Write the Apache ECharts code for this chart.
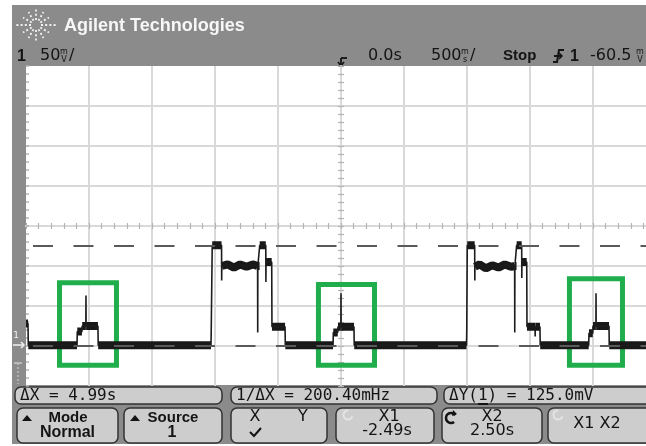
<!DOCTYPE html>
<html>
<head>
<meta charset="utf-8">
<script src="https://cdn.jsdelivr.net/npm/echarts@6.0.0/dist/echarts.min.js"></script>
<style>
  html, body { margin: 0; padding: 0; background: #ffffff; }
  #scope { width: 646px; height: 446px; }
</style>
</head>
<body>
<div id="scope"></div>
<script>
// Channel 1 capture: time in seconds (500 ms/div, 0.0 s at centre), level in mV (50 mV/div)
const traceTime = [
  -2.500, -2.484, -2.482,
  -2.095, -2.093, -2.056, -2.054, -2.025, -2.024, -2.023, -1.929, -1.927,
  -1.032, -1.030, -1.024, -1.022, -0.948, -0.947, -0.946,
  -0.900, -0.850, -0.800, -0.750, -0.700,
  -0.662, -0.661, -0.660, -0.646, -0.645, -0.597, -0.596, -0.595, -0.550, -0.548, -0.444, -0.442,
  -0.063, -0.061, -0.026, -0.024, -0.001, 0.000, 0.001, 0.103, 0.105,
  0.996, 0.998, 1.000, 1.002, 1.061, 1.062, 1.063,
  1.100, 1.150, 1.200, 1.250, 1.300, 1.350,
  1.378, 1.379, 1.380, 1.393, 1.394, 1.434, 1.435, 1.436, 1.474, 1.476, 1.540, 1.541, 1.542, 1.579, 1.581,
  1.966, 1.968, 1.998, 2.000, 2.023, 2.024, 2.025, 2.127, 2.129, 2.500
];
const traceMV = [
  28, 28, 1,
  1, 18, 18, 25, 25, 63, 25, 25, 1,
  1, 18, 18, 126, 126, 82, 100,
  102, 98, 102, 99, 102,
  100, 17, 100, 100, 126, 126, 80, 105, 105, 24, 24, 1,
  1, 17, 17, 24, 24, 66, 24, 24, 1,
  1, 18, 18, 126, 126, 82, 99,
  102, 97, 101, 98, 102, 99,
  100, 17, 100, 100, 126, 126, 85, 105, 105, 24, 24, 12, 24, 24, 1,
  1, 16, 16, 25, 25, 66, 25, 25, 1, 1
];

// Y cursors (mV) and the highlighted bursts (time span, level span)
const cursorMV = [0, 125];
const boxStart = [-2.234, -0.179, 1.813];
const boxEnd = [-1.782, 0.266, 2.234];
const boxTop = [79, 77, 84];
const boxBottom = [-24, -24, -24];

// Screen readouts
const brand = 'Agilent Technologies';
const statusItems = ['0.0s', '500', 'Stop', '1', '-60.5'];
const measureItems = ['ΔX = 4.99s', '1/ΔX = 200.40mHz', 'ΔY(1) = 125.0mV'];

const traceData = traceTime.map((t, i) => [t, traceMV[i]]);
// Noise band: only the settled levels, broken at every fast edge
const bandData = [];
traceData.forEach((p, i) => {
  bandData.push(p);
  const next = traceData[i + 1];
  if (next && next[0] - p[0] < 0.005) bandData.push(null);
});

const gridColor = '#d9d9d9';
const tickColor = '#b3b3b3';
const frame = '#8b8b8b';
const ink = '#141414';

const G = [];
function rect(x, y, w, h, fill, r, stroke) {
  G.push({ type: 'rect', silent: true, shape: { x, y, width: w, height: h, r: r || 0 },
    style: { fill, stroke: stroke || null, lineWidth: stroke ? 1.5 : 0 } });
}
function txt(x, y, text, size, opts) {
  opts = opts || {};
  G.push({ type: 'text', silent: true, x, y, style: {
    text, fontSize: size, fontFamily: opts.family || '"DejaVu Sans"',
    fontWeight: opts.weight || 'normal', fill: opts.color || ink,
    align: opts.align || 'left', verticalAlign: 'middle' } });
}
function seg(x1, y1, x2, y2, color, w, dash) {
  G.push({ type: 'line', silent: true, shape: { x1, y1, x2, y2 },
    style: { stroke: color, lineWidth: w, lineDash: dash || null } });
}
function poly(points, color, w, fill) {
  G.push({ type: fill ? 'polygon' : 'polyline', silent: true, shape: { points },
    style: fill ? { fill: color } : { stroke: color, lineWidth: w, fill: null } });
}
function arc(cx, cy, r, a0, a1, color, w) {
  G.push({ type: 'arc', silent: true, shape: { cx, cy, r, startAngle: a0, endAngle: a1 },
    style: { stroke: color, lineWidth: w, fill: null } });
}

// Bezel around the graticule
rect(12, 5, 634, 61, frame);
rect(12, 66, 14, 320, frame);
rect(12, 385, 634, 59, frame);

// Starburst logo
for (let k = 0; k < 12; k++) {
  const a = k * Math.PI / 6;
  const len = (k % 6 === 0) ? 20 : (k % 3 === 0 ? 17 : 15);
  seg(36 + 5 * Math.cos(a), 25 + 5 * Math.sin(a), 36 + len * Math.cos(a), 25 + len * Math.sin(a),
      '#f2f2f2', 1.8, [2, 2.2]);
}
txt(64, 26, brand, 18, { family: '"Liberation Sans"', weight: 'bold', color: '#f7f7f7' });

// Status line
txt(17, 57, '1', 16, { family: '"Liberation Sans"', weight: 'bold' });
txt(40, 56, '50', 16);
txt(64, 52, 'm', 8, { align: 'center' });
txt(64, 60, 'V', 8, { align: 'center' });
txt(69, 56, '/', 16);
txt(368, 56, statusItems[0], 16);
txt(431, 56, statusItems[1], 16);
txt(465, 52, 'm', 8, { align: 'center' });
txt(465, 60, 's', 8, { align: 'center' });
txt(470, 56, '/', 16);
txt(503, 56, statusItems[2], 15, { family: '"Liberation Sans"', weight: 'bold' });
poly([[553, 62], [557, 62], [559, 50], [564, 50]], ink, 2);
poly([[554, 56], [561, 56]], ink, 2);
poly([[559, 53], [562, 56], [559, 59]], ink, 1.5);
txt(570, 57, statusItems[3], 16, { family: '"Liberation Sans"', weight: 'bold' });
txt(590, 56, statusItems[4], 16);
txt(640, 52, 'm', 8, { align: 'center' });
txt(640, 60, 'V', 8, { align: 'center' });

// Trigger position marker
seg(341, 58, 347, 58, ink, 1.8);
seg(341, 58, 341, 65, ink, 1.8);
poly([[338, 62], [341, 66], [344, 62]], ink, 1.6);

// Ground reference and trigger level markers on the left
txt(16, 336, '1', 9, { color: '#f0f0f0', align: 'center' });
seg(13, 345, 24, 345, '#f0f0f0', 1.5);
poly([[21, 342], [24, 345], [21, 348]], '#f0f0f0', 1.5);
seg(14, 363, 22, 363, '#c9c9c9', 1.5);
seg(18, 363, 18, 384, '#c9c9c9', 1.2, [2, 2]);

// Measurement readouts
rect(15, 387, 207, 17, '#cdcdcd', 6, '#333333');
rect(231, 387, 206, 17, '#cdcdcd', 6, '#333333');
rect(444, 387, 210, 17, '#cdcdcd', 6, '#333333');
txt(20, 396, measureItems[0], 16, { family: '"DejaVu Sans Mono"' });
txt(236, 396, measureItems[1], 16, { family: '"DejaVu Sans Mono"' });
txt(449, 396, measureItems[2], 16, { family: '"DejaVu Sans Mono"' });
seg(478, 404, 488, 404, ink, 2);

// Softkeys
rect(17, 408, 101, 35, '#cdcdcd', 6, '#333333');
rect(124, 408, 98, 35, '#cdcdcd', 6, '#333333');
rect(231, 408, 96, 35, '#cdcdcd', 6, '#333333');
rect(336, 408, 98, 35, '#cdcdcd', 6, '#333333');
rect(442, 408, 100, 35, '#cdcdcd', 6, '#333333');
rect(548, 408, 106, 35, '#cdcdcd', 6, '#333333');
poly([[22, 421], [32, 421], [27, 415]], ink, 0, true);
txt(68, 418, 'Mode', 15, { family: '"Liberation Sans"', weight: 'bold', align: 'center' });
txt(67.5, 433, 'Normal', 16, { family: '"Liberation Sans"', weight: 'bold', align: 'center' });
poly([[130, 421], [140, 421], [135, 415]], ink, 0, true);
txt(173, 418, 'Source', 15, { family: '"Liberation Sans"', weight: 'bold', align: 'center' });
txt(172, 433, '1', 16, { family: '"Liberation Sans"', weight: 'bold', align: 'center' });
txt(255, 417, 'X', 16, { align: 'center' });
txt(303, 417, 'Y', 16, { align: 'center' });
poly([[250, 432], [254, 436], [261, 428]], ink, 2);
arc(348, 415, 4.5, 0.3, 4.8, '#e4e4e4', 2);
txt(389, 417, 'X1', 16, { align: 'center' });
txt(387, 431, '-2.49s', 16, { align: 'center' });
arc(451, 418, 5, 0.9, 5.7, ink, 2.5);
poly([[453, 410], [457, 414], [452, 416]], ink, 0, true);
txt(492, 417, 'X2', 16, { align: 'center' });
txt(492, 431, '2.50s', 16, { align: 'center' });
arc(558, 415, 4.5, 0.3, 4.8, '#e4e4e4', 2);
txt(597, 424, 'X1 X2', 16, { align: 'center' });

const chart = echarts.init(document.getElementById('scope'), null, { renderer: 'canvas' });
const hidden = { show: false };
chart.setOption({
  animation: false,
  backgroundColor: '#ffffff',
  grid: { left: 26, top: 66, width: 630, height: 320, outerBoundsMode: 'none', containLabel: false },
  xAxis: [
    { type: 'value', min: -2.5, max: 2.5, interval: 0.5,
      axisLine: hidden, axisTick: hidden, axisLabel: hidden,
      splitLine: { show: true, showMinLine: false, showMaxLine: false, lineStyle: { color: gridColor, width: 2 } } },
    { type: 'value', min: -2.5, max: 2.5, interval: 0.1,
      axisLine: { show: true, onZero: true, onZeroAxisIndex: 1, lineStyle: { color: gridColor, width: 2 } },
      axisTick: { show: true, inside: true, length: 3, lineStyle: { color: tickColor, width: 1.2 } },
      axisLabel: hidden, splitLine: hidden },
    { type: 'value', min: -2.5, max: 2.5, interval: 0.1,
      axisLine: { show: true, onZero: true, onZeroAxisIndex: 1, lineStyle: { color: gridColor, width: 2 } },
      axisTick: { show: true, inside: false, length: 3, lineStyle: { color: tickColor, width: 1.2 } },
      axisLabel: hidden, splitLine: hidden }
  ],
  yAxis: [
    { type: 'value', min: -50, max: 350, interval: 50,
      axisLine: { show: false, onZero: false },
      axisTick: { show: true, inside: true, length: 3, lineStyle: { color: tickColor, width: 1.5 } },
      minorTick: { show: true, splitNumber: 5, length: 3, lineStyle: { color: tickColor, width: 1.5 } },
      axisLabel: hidden,
      splitLine: { show: true, showMinLine: false, showMaxLine: false, lineStyle: { color: gridColor, width: 2 } } },
    { type: 'value', min: -1, max: 1, show: false },
    { type: 'value', min: -50, max: 350, interval: 10,
      axisLine: { show: true, onZero: true, onZeroAxisIndex: 0, lineStyle: { color: gridColor, width: 2 } },
      axisTick: { show: true, inside: true, length: 3, lineStyle: { color: tickColor, width: 1.2 } },
      axisLabel: hidden, splitLine: hidden },
    { type: 'value', min: -50, max: 350, interval: 10,
      axisLine: { show: true, onZero: true, onZeroAxisIndex: 0, lineStyle: { color: gridColor, width: 2 } },
      axisTick: { show: true, inside: false, length: 3, lineStyle: { color: tickColor, width: 1.2 } },
      axisLabel: hidden, splitLine: hidden }
  ],
  graphic: { elements: G },
  series: [
    { name: 'cursors', type: 'line', data: [], z: 2, silent: true,
      markLine: { silent: true, symbol: 'none', label: { show: false },
        lineStyle: { color: '#5a5a5a', width: 2, type: [20, 20.5], dashOffset: 33.5 },
        data: cursorMV.map(v => ({ yAxis: v })) } },
    { name: 'band', type: 'line', data: bandData, z: 3, silent: true, showSymbol: false,
      connectNulls: false, lineStyle: { color: '#181818', width: 8 } },
    { name: 'trace', type: 'line', data: traceData, z: 4, silent: true, showSymbol: false,
      lineStyle: { color: '#1c1c1c', width: 1.6 } },
    { name: 'bursts', type: 'line', data: [], z: 6, silent: true,
      markArea: { silent: true, label: { show: false },
        itemStyle: { color: 'rgba(0,0,0,0)', borderColor: '#1fae4b', borderWidth: 5 },
        data: boxStart.map((t, i) => [{ coord: [t, boxTop[i]] }, { coord: [boxEnd[i], boxBottom[i]] }]) } }
  ]
});
</script>
</body>
</html>
